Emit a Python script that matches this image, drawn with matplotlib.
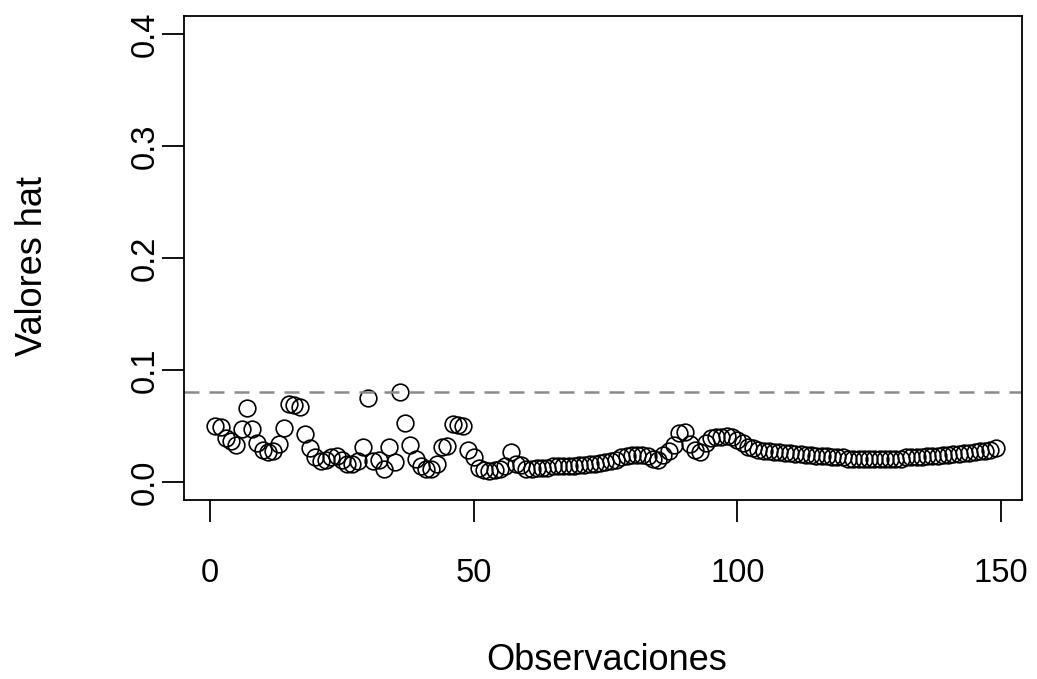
import matplotlib
matplotlib.use("Agg")
import matplotlib.pyplot as plt
import numpy as np

plt.rcParams['font.family'] = ['Liberation Sans', 'DejaVu Sans']

hat_1_60 = [0.050, 0.049, 0.039, 0.037, 0.033, 0.047, 0.066, 0.047, 0.035, 0.029,
            0.027, 0.028, 0.034, 0.048, 0.070, 0.069, 0.067, 0.043, 0.030, 0.022,
            0.019, 0.020, 0.022, 0.023, 0.020, 0.016, 0.016, 0.019, 0.031, 0.075,
            0.019, 0.020, 0.012, 0.031, 0.018, 0.080, 0.053, 0.033, 0.021, 0.014,
            0.012, 0.012, 0.016, 0.031, 0.032, 0.052, 0.051, 0.050, 0.029, 0.022,
            0.013, 0.011, 0.010, 0.011, 0.012, 0.014, 0.027, 0.016, 0.015, 0.012]
hat_61_100 = [0.012, 0.013, 0.013, 0.013, 0.014, 0.014, 0.014, 0.014, 0.014, 0.015,
              0.015, 0.016, 0.016, 0.017, 0.018, 0.019, 0.020, 0.022, 0.023, 0.024,
              0.024, 0.024, 0.023, 0.021, 0.020, 0.024, 0.028, 0.033, 0.044, 0.045,
              0.034, 0.029, 0.027, 0.035, 0.039, 0.040, 0.040, 0.041, 0.040, 0.038]
hat_101_149 = [0.035, 0.031, 0.030, 0.029, 0.028, 0.028, 0.027, 0.027, 0.026, 0.026,
               0.025, 0.025, 0.024, 0.024, 0.023, 0.023, 0.023, 0.022, 0.022, 0.022,
               0.021, 0.021, 0.021, 0.021, 0.021, 0.021, 0.021, 0.021, 0.021, 0.021,
               0.021, 0.022, 0.022, 0.022, 0.022, 0.023, 0.023, 0.023, 0.024, 0.024,
               0.025, 0.025, 0.026, 0.026, 0.027, 0.028, 0.028, 0.029, 0.030]
hat_values = hat_1_60 + hat_61_100 + hat_101_149
observations = np.arange(1, len(hat_values) + 1)
cutoff = 0.08  # 2p/n

x_ticks = [0, 50, 100, 150]
y_ticks = [0.0, 0.1, 0.2, 0.3, 0.4]
y_tick_labels = ["0.0", "0.1", "0.2", "0.3", "0.4"]

fig = plt.figure(figsize=(10.37, 6.79), dpi=100)
ax = fig.add_axes([184 / 1037, 1 - 500 / 679, (1022 - 184) / 1037, (500 - 16) / 679])

ax.plot(observations, hat_values, 'o', markersize=12, markerfacecolor='none',
        markeredgecolor='black', markeredgewidth=1.2)
ax.axhline(cutoff, color='#8a8a8a', lw=1.8, dashes=(6, 4))

ax.set_xlim(-4.94, 154.0)
ax.set_ylim(-0.016, 0.416)

# R style box
for s in ax.spines.values():
    s.set_linewidth(1.3)
ax.set_xticks(x_ticks)
ax.set_yticks(y_ticks)
ax.set_yticklabels(y_tick_labels, rotation=90, va='center')
ax.tick_params(axis='both', length=15.8, width=1.3, labelsize=23.5)
ax.tick_params(axis='x', pad=26)
ax.tick_params(axis='y', pad=1)

fig.text(607 / 1037, 1 - 660 / 679, "Observaciones", ha='center', va='center', fontsize=26)
fig.text(33 / 1037, 1 - 266 / 679, "Valores hat", ha='center', va='center',
         rotation=90, fontsize=26)

fig.savefig("out.png", dpi=100)
